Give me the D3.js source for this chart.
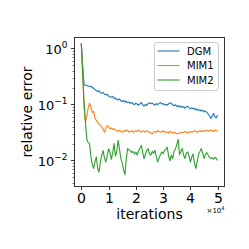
<!DOCTYPE html>
<meta charset="utf-8">
<html lang="en">
<head>
<script src="https://d3js.org/d3.v7.min.js"></script>
<style>
  body { margin: 0; background: #fff; }
  text { font-family: "DejaVu Sans", sans-serif; fill: #000; }
</style>
</head>
<body>
<div id="chart"></div>
<script>
// iterations sampled every 500 steps (0 .. 50000)
const step = 500;
const dgm = [1.25,0.50,0.225,0.222,0.218,0.214,0.209,0.212,0.200,0.196,
  0.185,0.178,0.170,0.175,0.162,0.158,0.165,0.152,0.148,0.153,
  0.141,0.137,0.135,0.140,0.128,0.131,0.124,0.120,0.126,0.117,
  0.113,0.118,0.110,0.114,0.108,0.111,0.104,0.109,0.103,0.099,
  0.106,0.101,0.097,0.103,0.108,0.099,0.093,0.101,0.096,0.104,
  0.107,0.103,0.106,0.101,0.097,0.104,0.099,0.105,0.108,0.102,
  0.104,0.098,0.101,0.097,0.103,0.107,0.104,0.100,0.095,0.099,
  0.092,0.096,0.090,0.094,0.088,0.092,0.086,0.090,0.093,0.087,
  0.084,0.088,0.083,0.086,0.080,0.083,0.078,0.081,0.076,0.079,
  0.074,0.077,0.072,0.068,0.063,0.056,0.062,0.069,0.060,0.058,0.065];
const mim1 = [1.2,0.35,0.09,0.05,0.06,0.085,0.105,0.09,0.072,0.075,
  0.058,0.052,0.048,0.045,0.042,0.040,0.036,0.032,0.038,0.042,
  0.040,0.037,0.038,0.036,0.037,0.035,0.034,0.033,0.035,0.033,
  0.032,0.034,0.033,0.035,0.034,0.032,0.033,0.034,0.032,0.033,
  0.034,0.033,0.035,0.033,0.032,0.034,0.033,0.032,0.034,0.033,
  0.032,0.031,0.030,0.032,0.033,0.032,0.034,0.033,0.032,0.033,
  0.034,0.032,0.033,0.032,0.031,0.033,0.032,0.031,0.032,0.031,
  0.030,0.030,0.031,0.032,0.031,0.032,0.033,0.032,0.031,0.032,
  0.033,0.032,0.033,0.034,0.033,0.032,0.033,0.034,0.033,0.034,
  0.033,0.034,0.035,0.033,0.034,0.035,0.034,0.033,0.035,0.034,0.034];
const mim2 = [1.2,0.35,0.11,0.05,0.024,0.021,0.020,0.012,0.0085,0.0072,
  0.0095,0.0115,0.0072,0.0062,0.0095,0.0125,0.015,0.011,0.0094,0.012,
  0.0162,0.014,0.0105,0.0135,0.020,0.012,0.0145,0.023,0.016,0.0108,
  0.009,0.0068,0.0056,0.011,0.0163,0.0155,0.015,0.0138,0.0145,0.013,
  0.0142,0.0125,0.0148,0.0165,0.0186,0.014,0.0108,0.013,0.0152,0.0163,
  0.013,0.0125,0.0145,0.0135,0.0152,0.0118,0.0094,0.011,0.0128,0.0142,
  0.0132,0.015,0.016,0.0173,0.012,0.0098,0.0125,0.0108,0.0145,0.016,
  0.019,0.024,0.0128,0.0145,0.0163,0.0125,0.0108,0.0135,0.0142,0.012,
  0.0094,0.0115,0.013,0.009,0.0072,0.0095,0.013,0.0145,0.0163,0.0135,
  0.0108,0.0128,0.0138,0.0125,0.0115,0.0108,0.0112,0.0106,0.0114,0.0110,0.0100];
const seriesNames = ["DGM", "MIM1", "MIM2"];
const seriesData = [dgm, mim1, mim2];
const xTicks = [0, 10000, 20000, 30000, 40000, 50000];
const xTickLabels = ["0", "1", "2", "3", "4", "5"];
const yTicks = [1, 0.1, 0.01];
const yTickExp = ["0", "\u22121", "\u22122"];

const colour = d3.scaleOrdinal().domain(seriesNames).range(["#1f77b4", "#ff7f0e", "#2ca02c"]);

const W = 249, H = 249;
const margin = {left: 74.5, right: 224.5, top: 37.5, bottom: 186.5};

const svg = d3.select("#chart").append("svg")
    .attr("width", W).attr("height", H);

const x = d3.scaleLinear().domain([-2500, 52500]).range([margin.left, margin.right]);
const y = d3.scaleLog().domain([0.00343, 1.572]).range([margin.bottom, margin.top]);

// lines
const line = d3.line()
    .x((d, i) => x(i * step))
    .y(d => y(d));

const plot = svg.append("g");
seriesData.forEach((s, k) => {
  plot.append("path")
    .datum(s)
    .attr("fill", "none")
    .attr("stroke", colour(seriesNames[k]))
    .attr("stroke-width", 1.1)
    .attr("stroke-linejoin", "round")
    .attr("d", line);
});

// frame
svg.append("rect")
    .attr("x", margin.left).attr("y", margin.top)
    .attr("width", margin.right - margin.left).attr("height", margin.bottom - margin.top)
    .attr("fill", "none").attr("stroke", "#333").attr("stroke-width", 1);

// x axis
const xg = svg.append("g");
xTicks.forEach((t, i) => {
  const px = Math.round(x(t)) + 0.5;
  xg.append("line").attr("x1", px).attr("x2", px)
    .attr("y1", margin.bottom).attr("y2", margin.bottom + 3.5)
    .attr("stroke", "#333").attr("stroke-width", 1);
  xg.append("text").attr("x", px).attr("y", margin.bottom + 16)
    .attr("text-anchor", "middle").attr("font-size", 14)
    .text(xTickLabels[i]);
});
const off = svg.append("text").attr("x", margin.right).attr("y", 213)
    .attr("text-anchor", "end").attr("font-size", 7);
off.append("tspan").text("\u00d710");
off.append("tspan").attr("dy", -3).attr("font-size", 5).text("4");

// y axis major
const yg = svg.append("g");
yTicks.forEach((t, i) => {
  const py = Math.round(y(t)) + 0.5;
  yg.append("line").attr("x1", margin.left - 3.5).attr("x2", margin.left)
    .attr("y1", py).attr("y2", py)
    .attr("stroke", "#333").attr("stroke-width", 1);
  const tx = yg.append("text").attr("x", margin.left - 7).attr("y", py + 5)
    .attr("text-anchor", "end").attr("font-size", 13);
  tx.append("tspan").text("10");
  tx.append("tspan").attr("dy", -6).attr("font-size", 9).text(yTickExp[i]);
});
// y axis minor
const minor = [];
[0.001, 0.01, 0.1, 1].forEach(b => {
  for (let m = 2; m <= 9; m++) {
    const v = b * m;
    if (v > y.domain()[0] && v < y.domain()[1]) minor.push(v);
  }
});
minor.forEach(v => {
  const py = Math.round(y(v)) + 0.5;
  yg.append("line").attr("x1", margin.left - 2).attr("x2", margin.left)
    .attr("y1", py).attr("y2", py)
    .attr("stroke", "#333").attr("stroke-width", 0.7);
});

// axis labels
svg.append("text").attr("x", (margin.left + margin.right) / 2).attr("y", 219)
  .attr("text-anchor", "middle").attr("font-size", 14).text("iterations");
svg.append("text")
  .attr("transform", `translate(32,${(margin.top + margin.bottom) / 2}) rotate(-90)`)
  .attr("text-anchor", "middle").attr("font-size", 14).text("relative error");

// legend
const lg = svg.append("g");
lg.append("rect").attr("x", 154.5).attr("y", 42.5)
  .attr("width", 64).attr("height", 48).attr("rx", 2.5)
  .attr("fill", "#fff").attr("fill-opacity", 0.8)
  .attr("stroke", "#ccc").attr("stroke-width", 1);
seriesNames.forEach((n, k) => {
  const ly = 51 + k * 14.5;
  lg.append("line").attr("x1", 157.5).attr("x2", 179.5)
    .attr("y1", ly).attr("y2", ly)
    .attr("stroke", colour(n)).attr("stroke-width", 1.1);
  lg.append("text").attr("x", 187).attr("y", ly + 3.7)
    .attr("font-size", 10).text(n);
});
</script>
</body>
</html>
